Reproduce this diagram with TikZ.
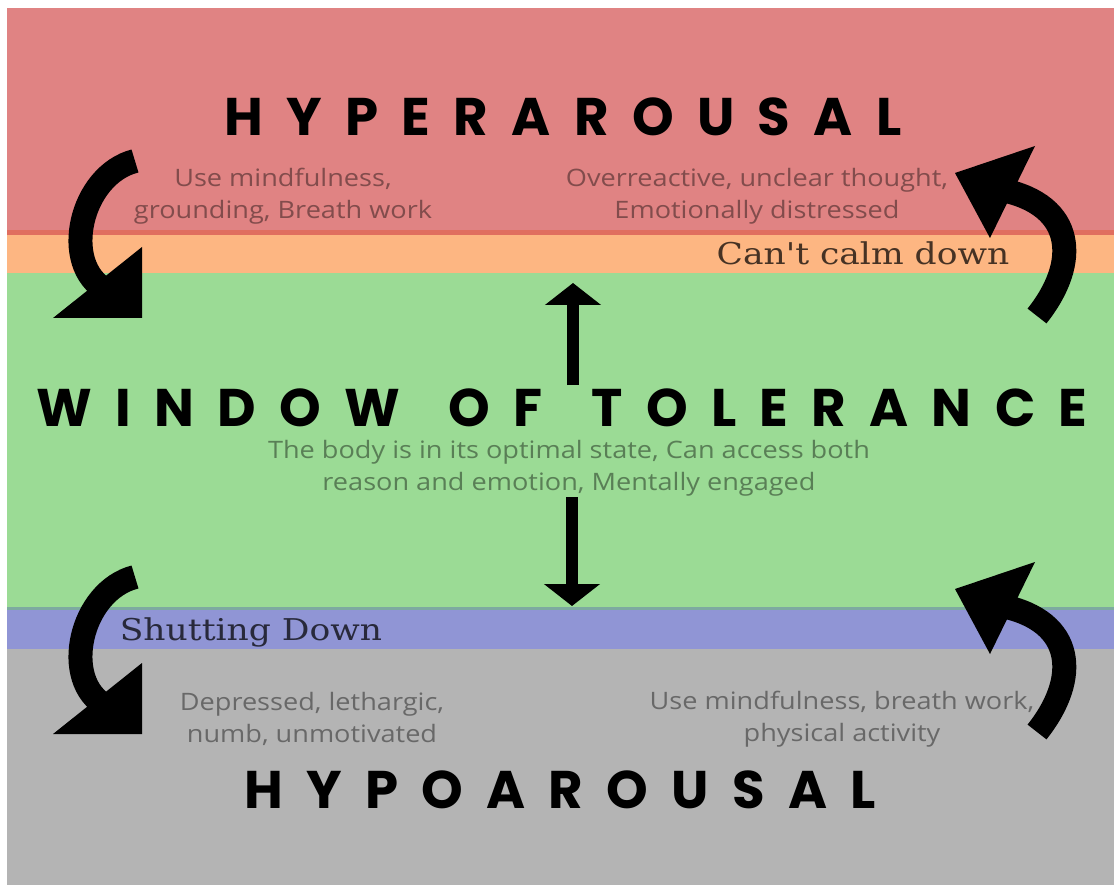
\documentclass[tikz,border=0pt]{standalone}
\usepackage{fontspec}
\setmainfont[FakeStretch=1.13]{Open Sans}
\newfontfamily\bandfont[LetterSpace=44]{Poppins}
\newfontfamily\limitfont[FakeStretch=1.15]{DejaVu Serif}
\usetikzlibrary{arrows.meta}
\definecolor{hyperred}{HTML}{E08383}
\definecolor{edgered}{HTML}{E06E5F}
\definecolor{calmorange}{HTML}{FDB682}
\definecolor{okgreen}{HTML}{9BDB95}
\definecolor{shutblue}{HTML}{9095D5}
\definecolor{edgeteal}{HTML}{7DAAA0}
\definecolor{hypogray}{HTML}{B4B4B4}
\tikzset{
  bandtitle/.style={inner sep=0pt,font=\bandfont\bfseries\fontsize{53}{60}\selectfont},
  bandnote/.style={inner sep=0pt,align=center,text=black,text opacity=0.42,font=\fontsize{24}{32}\selectfont},
  limitlabel/.style={inner sep=0pt,anchor=base,text=black,text opacity=0.72,font=\limitfont\fontsize{30}{36}\selectfont},
  updown/.style={line width=12pt,-{Triangle[width=55pt,length=22pt]}},
  curl/.style={line width=24pt}
}
\begin{document}
\begin{tikzpicture}[x=1pt,y=-1pt]
\useasboundingbox (0,0) rectangle (1114,885);
\fill[white] (0,0) rectangle (1114,885);
%bands
\fill[hyperred] (7,8) rectangle (1114,233);
\fill[edgered] (7,230) rectangle (1114,235);
\fill[calmorange] (7,235) rectangle (1114,273);
\fill[okgreen] (7,273) rectangle (1114,608);
\fill[shutblue] (7,608) rectangle (1114,649);
\draw[edgeteal,line width=3pt] (7,608)--(1114,608);
\fill[hypogray] (7,649) rectangle (1114,885);
%texts
\node[bandtitle] (hyper) at (563,117) {HYPERAROUSAL};
\node[bandnote] (hypernoteL) at (283,196) {Use mindfulness,\\grounding, Breath work};
\node[bandnote] (hypernoteR) at (757,196) {Overreactive, unclear thought,\\Emotionally distressed};
\node[limitlabel] (calm) at (863,265) {Can't calm down};
\node[bandtitle] (window) at (562,408) {WINDOW\hspace{14pt} OF\hspace{14pt} TOLERANCE};
\node[bandnote] (windownote) at (569,468) {The body is in its optimal state, Can access both\\reason and emotion, Mentally engaged};
\node[limitlabel] (shut) at (251,640) {Shutting Down};
\node[bandnote] (hyponoteL) at (312,719) {Depressed, lethargic,\\numb, unmotivated};
\node[bandnote] (hyponoteR) at (842,719) {Use mindfulness, breath work,\\physical activity};
\node[bandtitle] (hypo) at (560,790) {HYPOAROUSAL};
%straight arrows
\coordinate (upfoot) at (573,385);
\coordinate (uptip) at (573,283);
\coordinate (downfoot) at (572,497);
\coordinate (downtip) at (572,606);
\draw[updown] (upfoot)--(uptip);
\draw[updown] (downfoot)--(downtip);
%curled arrows
\foreach \dy in {0,416}{
\fill (142,247+\dy)--(142,318+\dy)--(53,318+\dy)--cycle;
\draw[curl] (135,161+\dy) .. controls (80,175+\dy) and (60,265+\dy) .. (106,290+\dy);
\fill (1035,146+\dy)--(955,173+\dy)--(990,238+\dy)--cycle;
\draw[curl] (1002,190+\dy) .. controls (1075,205+\dy) and (1080,262+\dy) .. (1037,316+\dy);
}
\end{tikzpicture}
\end{document}
